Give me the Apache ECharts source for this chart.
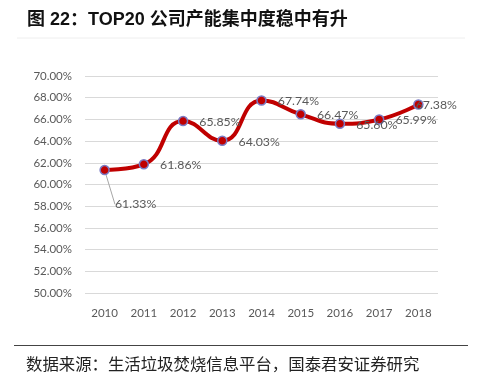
<!DOCTYPE html>
<html>
<head>
<meta charset="utf-8">
<script src="https://cdn.jsdelivr.net/npm/echarts@6/dist/echarts.min.js"></script>
<style>html,body{margin:0;padding:0;background:#fff}#c{width:484px;height:376px}</style>
</head>
<body>
<div id="c"></div>
<script>
const titleText = '图 22：TOP20 公司产能集中度稳中有升';
const sourceText = '数据来源：生活垃圾焚烧信息平台，国泰君安证券研究';
const years = ['2010','2011','2012','2013','2014','2015','2016','2017','2018'];
const shares = [61.33, 61.86, 65.85, 64.03, 67.74, 66.47, 65.60, 65.99, 67.38];
const yMin = 50, yMax = 70, yStep = 2;

const chart = echarts.init(document.getElementById('c'), null, {renderer: 'canvas'});
const lastIdx = shares.length - 1;
const data = shares.map((v, i) => {
  const d = {value: v};
  if (i === 0) {
    d.label = {position: 'bottom'};
    d.labelLine = {show: true, lineStyle: {color: '#a6a6a6', width: 1}};
  }
  return d;
});
chart.setOption({
  animation: false,
  title: [{
    text: titleText, left: 22, top: 6,
    textStyle: {fontFamily: 'Liberation Sans, Noto Sans CJK SC', fontSize: 18, fontWeight: 'bold', color: '#111'}
  }, {
    text: sourceText, left: 21, top: 351,
    textStyle: {fontFamily: 'Noto Sans CJK SC', fontSize: 16.4, fontWeight: 'normal', color: '#222'}
  }],
  graphic: [
    {type: 'line', shape: {x1: 17, y1: 38, x2: 465, y2: 38}, style: {stroke: '#eeeeee', lineWidth: 1}},
    {type: 'line', shape: {x1: 14, y1: 345.5, x2: 468, y2: 345.5}, style: {stroke: '#444', lineWidth: 1}}
  ],
  grid: {left: 85, right: 46, top: 76, bottom: 83},
  xAxis: {
    type: 'category', data: years, boundaryGap: true,
    axisLine: {show: false}, axisTick: {show: false},
    axisLabel: {color: '#595959', fontFamily: 'Lato', fontSize: 11.5, margin: 14}
  },
  yAxis: {
    type: 'value', min: yMin, max: yMax, interval: yStep,
    axisLine: {show: false}, axisTick: {show: false},
    axisLabel: {color: '#595959', fontFamily: 'Lato', fontSize: 11.5, margin: 13,
      formatter: v => v.toFixed(2) + '%'},
    splitLine: {lineStyle: {color: '#d9d9d9', width: 1}}
  },
  series: [{
    type: 'line', data: data, smooth: true,
    symbol: 'circle', symbolSize: 9,
    lineStyle: {color: '#c00000', width: 4},
    itemStyle: {color: '#c00000', borderColor: '#7b7bc4', borderWidth: 1.5},
    label: {show: true, position: 'right', distance: 11, color: '#595959',
      fontFamily: 'Lato', fontSize: 12.3, formatter: p => p.value.toFixed(2) + '%'},
    labelLayout: p => p.dataIndex === 0 ? {dx: 31, dy: 12}
      : (p.dataIndex === lastIdx ? {dx: -19, dy: 1} : {dy: 1}),
    z: 3
  }]
});
</script>
</body>
</html>
